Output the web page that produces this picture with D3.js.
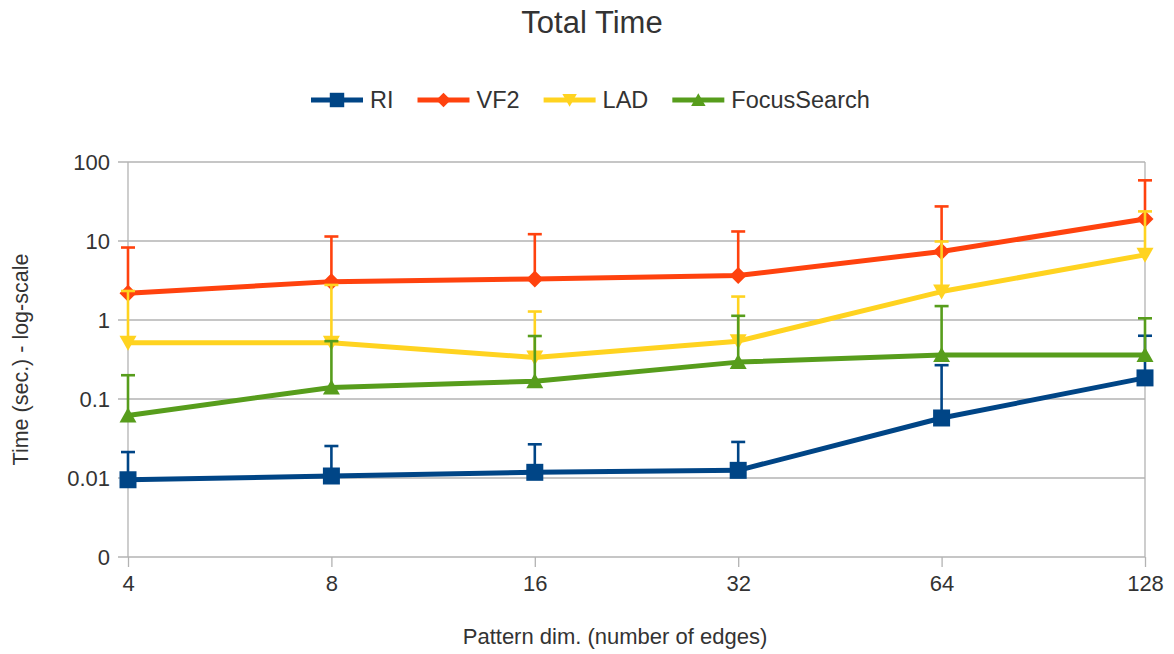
<!DOCTYPE html>
<html>
<head>
<meta charset="utf-8">
<script src="https://cdn.jsdelivr.net/npm/d3@7"></script>
<style>
  html, body { margin: 0; padding: 0; background: #fff; }
  svg { display: block; font-family: "Liberation Sans", Arial, sans-serif; }
</style>
</head>
<body>
<svg id="chart" width="1174" height="654"></svg>
<script>
// Pattern sizes on the x axis
const categories = ["4", "8", "16", "32", "64", "128"];

// Mean total time per algorithm (seconds)
const riValues  = [0.0095, 0.0106, 0.0118, 0.0125, 0.0575, 0.185];
const vf2Values = [2.18, 3.06, 3.31, 3.65, 7.36, 19.0];
const ladValues = [0.515, 0.515, 0.336, 0.54, 2.29, 6.68];
const fsValues  = [0.062, 0.14, 0.168, 0.293, 0.36, 0.36];

// Upper end of the error bars (mean + deviation)
const riUpper  = [0.0213, 0.0254, 0.0267, 0.0286, 0.268, 0.632];
const vf2Upper = [8.27, 11.4, 12.2, 13.2, 27.4, 58.6];
const ladUpper = [2.33, 2.78, 1.28, 1.98, 9.86, 23.7];
const fsUpper  = [0.200, 0.54, 0.627, 1.13, 1.5, 1.05];

// Y tick values and how they are printed
const yTickValues = [0.001, 0.01, 0.1, 1, 10, 100];
const yTickLabels = ["0", "0.01", "0.1", "1", "10", "100"];

const seriesNames = ["RI", "VF2", "LAD", "FocusSearch"];
const seriesColors = ["#004586", "#ff420e", "#ffd320", "#579d1c"];
const seriesShapes = ["square", "diamond", "triangleDown", "triangleUp"];

const series = seriesNames.map((name, i) => ({
  name,
  color: seriesColors[i],
  shape: seriesShapes[i],
  values: [riValues, vf2Values, ladValues, fsValues][i],
  upper: [riUpper, vf2Upper, ladUpper, fsUpper][i]
}));

const svg = d3.select("#chart");
const plot = { left: 128, right: 1145, top: 162, bottom: 557 };
const textColor = "#333333";
const gridColor = "#b3b3b3";

const x = d3.scalePoint().domain(categories).range([plot.left, plot.right]);
const y = d3.scaleLog().domain([0.001, 100]).range([plot.bottom, plot.top]);

function markerPath(shape) {
  switch (shape) {
    case "square": return "M-8.5,-8.5H8.5V8.5H-8.5Z";
    case "diamond": return "M0,-8.5L8.5,0L0,8.5L-8.5,0Z";
    case "triangleDown": return "M-8.5,-7H8.5L0,8Z";
    case "triangleUp": return "M-8.5,7H8.5L0,-8Z";
  }
}

// Title
svg.append("text")
  .attr("x", 592).attr("y", 33)
  .attr("text-anchor", "middle")
  .attr("font-size", 31)
  .attr("fill", textColor)
  .text("Total Time");

// Horizontal grid lines (with short ticks left of the axis)
svg.append("g")
  .selectAll("line")
  .data(yTickValues)
  .join("line")
  .attr("x1", plot.left - 10).attr("x2", plot.right)
  .attr("y1", d => y(d)).attr("y2", d => y(d))
  .attr("stroke", gridColor).attr("stroke-width", 1.3);

// Frame: left axis and right edge
svg.append("line")
  .attr("x1", plot.left).attr("x2", plot.left)
  .attr("y1", plot.top).attr("y2", plot.bottom)
  .attr("stroke", gridColor).attr("stroke-width", 1.3);
svg.append("line")
  .attr("x1", plot.right).attr("x2", plot.right)
  .attr("y1", plot.top).attr("y2", plot.bottom)
  .attr("stroke", gridColor).attr("stroke-width", 1.3);

// Y axis labels
const yAxis = d3.axisLeft(y)
  .tickValues(yTickValues)
  .tickFormat((d, i) => yTickLabels[i])
  .tickSize(0)
  .tickPadding(18);
const gy = svg.append("g").attr("transform", `translate(${plot.left},0)`).call(yAxis);
gy.select(".domain").remove();
gy.selectAll("text").attr("font-size", 22).attr("fill", textColor)
  .attr("font-family", "Liberation Sans, Arial, sans-serif");

// X axis with ticks below the plot
const xAxis = d3.axisBottom(x).tickSize(10).tickPadding(8);
const gx = svg.append("g").attr("transform", `translate(0,${plot.bottom})`).call(xAxis);
gx.select(".domain").remove();
gx.selectAll("line").attr("stroke", gridColor).attr("stroke-width", 1.3);
gx.selectAll("text").attr("font-size", 22).attr("fill", textColor)
  .attr("font-family", "Liberation Sans, Arial, sans-serif");

// Axis titles
svg.append("text")
  .attr("x", 615).attr("y", 644)
  .attr("text-anchor", "middle")
  .attr("font-size", 22)
  .attr("fill", textColor)
  .text("Pattern dim. (number of edges)");
svg.append("text")
  .attr("transform", `translate(28,${(plot.top + plot.bottom) / 2}) rotate(-90)`)
  .attr("text-anchor", "middle")
  .attr("font-size", 21.5)
  .attr("fill", textColor)
  .text("Time (sec.) - log-scale");

// Series: lines, error bars, markers
const line = d3.line().x(d => x(d.cat)).y(d => y(d.v));
series.forEach(s => {
  const pts = categories.map((c, i) => ({ cat: c, v: s.values[i], up: s.upper[i] }));
  const g = svg.append("g");
  g.append("path")
    .datum(pts)
    .attr("d", line)
    .attr("fill", "none")
    .attr("stroke", s.color)
    .attr("stroke-width", 5)
    .attr("stroke-linejoin", "round");
  const eb = g.append("g").selectAll("g").data(pts).join("g");
  eb.append("line")
    .attr("x1", d => x(d.cat)).attr("x2", d => x(d.cat))
    .attr("y1", d => y(d.v)).attr("y2", d => y(d.up))
    .attr("stroke", s.color).attr("stroke-width", 2.6);
  eb.append("line")
    .attr("x1", d => x(d.cat) - 7).attr("x2", d => x(d.cat) + 7)
    .attr("y1", d => y(d.up)).attr("y2", d => y(d.up))
    .attr("stroke", s.color).attr("stroke-width", 2.6);
  g.append("g").selectAll("path").data(pts).join("path")
    .attr("transform", d => `translate(${x(d.cat)},${y(d.v)})`)
    .attr("d", markerPath(s.shape))
    .attr("fill", s.color);
});

// Legend, laid out from the measured label widths
const legend = svg.append("g");
const swatchLen = 52, textGap = 7, entryGap = 24, legendY = 100;
let lx = 311;
series.forEach(s => {
  legend.append("line")
    .attr("x1", lx).attr("x2", lx + swatchLen)
    .attr("y1", legendY).attr("y2", legendY)
    .attr("stroke", s.color).attr("stroke-width", 5);
  legend.append("path")
    .attr("transform", `translate(${lx + swatchLen / 2},${legendY}) scale(0.85)`)
    .attr("d", markerPath(s.shape))
    .attr("fill", s.color);
  const t = legend.append("text")
    .attr("x", lx + swatchLen + textGap).attr("y", legendY + 8)
    .attr("font-size", 23.5)
    .attr("fill", textColor)
    .text(s.name);
  lx += swatchLen + textGap + t.node().getComputedTextLength() + entryGap;
});
</script>
</body>
</html>
